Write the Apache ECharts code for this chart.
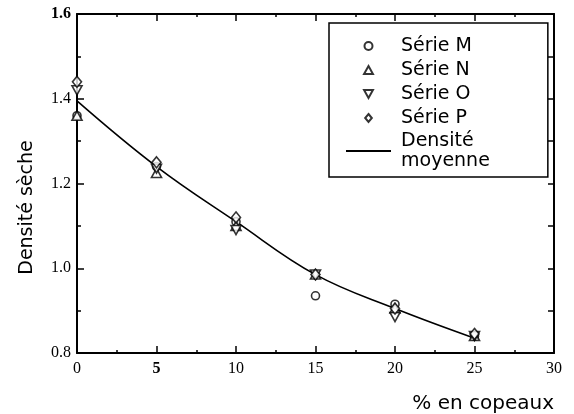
<!DOCTYPE html>
<html><head><meta charset="utf-8">
<script src="https://cdn.jsdelivr.net/npm/echarts@6/dist/echarts.min.js"></script>
<style>html,body{margin:0;padding:0;background:#fff}#c{width:574px;height:414px}</style>
</head><body><div id="c"></div>
<script>
const xTicks = [0, 5, 10, 15, 20, 25, 30];
const yTicks = [0.8, 1.0, 1.2, 1.4, 1.6];
const serieM = [[0,1.36],[5,1.24],[10,1.11],[15,0.935],[20,0.915],[25,0.84]];
const serieN = [[0,1.36],[5,1.225],[10,1.10],[15,0.985],[20,0.905],[25,0.84]];
const serieO = [[0,1.42],[5,1.235],[10,1.09],[15,0.985],[20,0.885],[25,0.84]];
const serieP = [[0,1.44],[5,1.25],[10,1.12],[15,0.985],[20,0.905],[25,0.845]];
const moyenne = [[0,1.395],[5,1.24],[10,1.11],[15,0.985],[20,0.905],[25,0.835]];

const serif = 'Liberation Serif';
const sans = 'DejaVu Sans';
const mk = {color:'#fff', borderColor:'#000', borderWidth:1.6};
const upTri = 'path://M5,0 L10,9 L0,9 Z';
const downTri = 'path://M0,0 L10,0 L5,9 Z';
const diamond = 'path://M5,0 L10,6 L5,12 L0,6 Z';

const chart = echarts.init(document.getElementById('c'));
const axisCommon = {
  min: 0, max: 30, interval: 5,
  axisLine: {onZero:false, lineStyle:{color:'#000', width:2}},
  axisTick: {inside:true, length:7, lineStyle:{color:'#000', width:1.5}},
  minorTick: {show:true, splitNumber:2, length:3, lineStyle:{color:'#000', width:1.5}},
  splitLine: {show:false}
};
chart.setOption({
  animation:false,
  grid:{left:77, right:20, top:14, bottom:61},
  xAxis:[
    Object.assign({type:'value', position:'bottom',
      axisLabel:{margin:8, fontFamily:serif, fontSize:16, color:'#000',
        formatter:v=> v===5 ? '{b|5}' : String(v),
        rich:{b:{fontWeight:'bold', fontFamily:serif, fontSize:16, color:'#000'}}},
      name:'% en copeaux', nameLocation:'end', nameGap:0,
      nameTextStyle:{fontFamily:sans, fontSize:20, color:'#000', align:'right', verticalAlign:'top', padding:[41,0,0,0]}
    }, axisCommon),
    Object.assign({type:'value', position:'top', axisLabel:{show:false}}, axisCommon)
  ],
  yAxis:[
    {type:'value', position:'left', min:0.8, max:1.6, interval:0.2,
      axisLine:{onZero:false, lineStyle:{color:'#000', width:2}},
      axisTick:{inside:true, length:7, lineStyle:{color:'#000', width:1.5}},
      minorTick:{show:true, splitNumber:2, length:4, lineStyle:{color:'#000', width:1.5}},
      splitLine:{show:false},
      axisLabel:{margin:6, fontFamily:serif, fontSize:16, color:'#000',
        formatter:v=> Math.abs(v-1.6)<1e-9 ? '{b|1.6}' : v.toFixed(1),
        rich:{b:{fontWeight:'bold', fontFamily:serif, fontSize:16, color:'#000'}}},
      name:'Densité sèche', nameLocation:'middle', nameGap:40,
      nameTextStyle:{fontFamily:sans, fontSize:19, color:'#000', padding:[0,48,0,0]}
    },
    {type:'value', position:'right', min:0.8, max:1.6, interval:0.1,
      axisLine:{onZero:false, lineStyle:{color:'#000', width:2}},
      axisTick:{inside:true, length:6, lineStyle:{color:'#000', width:1.5}},
      splitLine:{show:false}, axisLabel:{show:false}
    }
  ],
  legend:{
    orient:'vertical', left:329, top:23,
    padding:[12,58,6,16], itemGap:2, itemWidth:45, itemHeight:8,
    symbolKeepAspect:true,
    borderColor:'#000', borderWidth:1.5, backgroundColor:'#fff',
    textStyle:{fontFamily:sans, fontSize:19, color:'#000', lineHeight:22, padding:[0,0,0,5]},
    data:[
      {name:'Série M', icon:'circle'},
      {name:'Série N', icon:upTri},
      {name:'Série O', icon:downTri},
      {name:'Série P', icon:diamond},
      {name:'Densité\nmoyenne', itemStyle:{color:'rgba(0,0,0,0)', borderWidth:0, opacity:0},
       textStyle:{lineHeight:20, padding:[0,0,0,5]}}
    ]
  },
  series:[
    {name:'Densité\nmoyenne', type:'line', data:moyenne, smooth:0.4, symbol:'none',
      lineStyle:{color:'#000', width:1.6}, itemStyle:{color:'#000'}, z:1},
    {name:'Série M', type:'scatter', data:serieM, symbol:'circle', symbolSize:8, itemStyle:mk, z:3},
    {name:'Série N', type:'scatter', data:serieN, symbol:upTri, symbolSize:[10,9], itemStyle:mk, z:3},
    {name:'Série O', type:'scatter', data:serieO, symbol:downTri, symbolSize:[10,9], itemStyle:mk, z:3},
    {name:'Série P', type:'scatter', data:serieP, symbol:diamond, symbolSize:[9,11], itemStyle:mk, z:3}
  ]
});
</script></body></html>
